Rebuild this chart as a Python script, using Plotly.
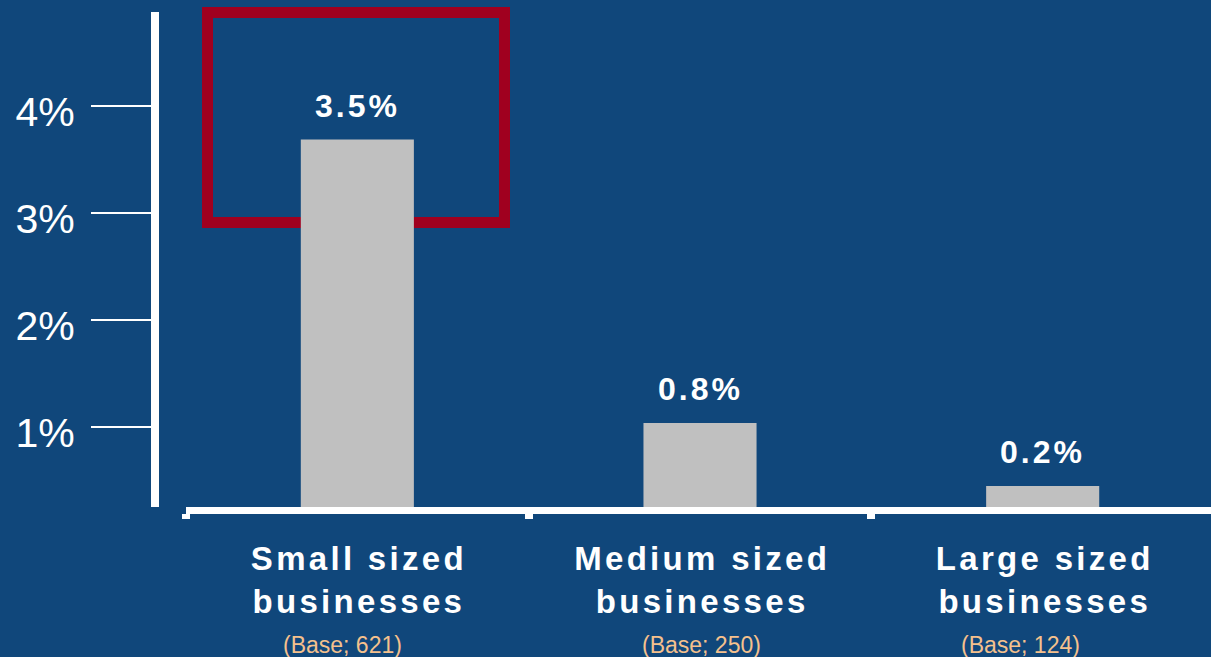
import plotly.graph_objects as go

# Share of businesses, by size band (percent)
categories = ["Small sized<br>businesses", "Medium sized<br>businesses", "Large sized<br>businesses"]
shares = [3.5, 0.8, 0.2]
bases = [621, 250, 124]
tick_values = [1, 2, 3, 4]
tick_labels = ["1%", "2%", "3%", "4%"]

W, H = 1211, 657
BG = "#10477B"
BAR = "#C0C0C0"
PEACH = "#F5C18D"
RED = "#A0001F"
FONT = "Liberation Sans, Arial, sans-serif"


def px_y(p):
    """Convert a pixel row (from the top) into paper y."""
    return 1 - p / H


x_pos = list(range(len(shares)))

fig = go.Figure()
# empty series that keeps the percentage scale on the page
fig.add_trace(go.Scatter(x=[], y=[], yaxis="y", showlegend=False, hoverinfo="skip"))
fig.add_trace(go.Bar(
    x=x_pos, y=shares, width=0.33, yaxis="y2",
    marker=dict(color=BAR, line=dict(width=0)),
    hoverinfo="skip", showlegend=False,
))

# value labels above each bar
annotations = []
for xi, v in zip(x_pos, shares):
    annotations.append(dict(
        x=xi, y=v, xref="x", yref="y2", text=f"{v}%", showarrow=False,
        yanchor="bottom", yshift=14,
        font=dict(family=FONT, size=32, color="white", weight="bold"),
    ))

# category names and sample bases under the axis
base_shift = [-15, 1, -22]
for xi, name, b, dx in zip(x_pos, categories, bases, base_shift):
    annotations.append(dict(
        x=xi, y=px_y(580), xref="x", yref="paper", text=name, showarrow=False,
        yanchor="middle", xshift=2,
        font=dict(family=FONT, size=33, color="white", weight="bold"),
    ))
    annotations.append(dict(
        x=xi, y=px_y(645), xref="x", yref="paper", text=f"(Base; {b})",
        showarrow=False, yanchor="middle", xshift=dx,
        font=dict(family=FONT, size=23, color=PEACH),
    ))

dom = [px_y(507), px_y(12)]

fig.update_layout(
    width=W, height=H,
    margin=dict(l=0, r=0, t=0, b=0),
    paper_bgcolor=BG, plot_bgcolor="rgba(0,0,0,0)",
    xaxis=dict(
        domain=[186 / W, 1], range=[-0.5, 2.4912], anchor="y2",
        showgrid=False, zeroline=False,
        showline=True, linecolor="white", linewidth=7,
        ticks="outside", tickvals=[-0.5, 0.5, 1.5], ticklen=5, tickwidth=8,
        tickcolor="white", showticklabels=False,
    ),
    yaxis=dict(
        domain=dom, range=[0.252, 4.879], anchor="free", position=155 / W,
        showgrid=False, zeroline=False,
        showline=True, linecolor="white", linewidth=8,
        ticks="outside", tickvals=tick_values, ticktext=tick_labels,
        ticklen=60, tickwidth=2, tickcolor="white",
        ticklabelstandoff=8, ticklabelshift=6,
        tickfont=dict(family=FONT, size=41, color="white"),
    ),
    yaxis2=dict(
        domain=dom, range=[0, 495 / 105], overlaying="y", anchor="x",
        visible=False,
    ),
    annotations=annotations,
    shapes=[dict(
        type="rect", xref="paper", yref="paper",
        x0=207.5 / W, x1=504.5 / W, y0=px_y(222.5), y1=px_y(12.5),
        line=dict(color=RED, width=11), fillcolor="rgba(0,0,0,0)", layer="below",
    )],
)

# widen the tracking of the bold labels
spacing_js = """
var gd = document.getElementById('{plot_id}');
gd.querySelectorAll('.annotation-text').forEach(function(t) {
    var w = parseInt(window.getComputedStyle(t).fontWeight, 10);
    if (w >= 600) {
        var s = parseFloat(window.getComputedStyle(t).fontSize) > 32.5 ? '3.3px' : '3px';
        t.style.letterSpacing = s;
    }
});
"""

fig.write_html("out.html", post_script=spacing_js)
